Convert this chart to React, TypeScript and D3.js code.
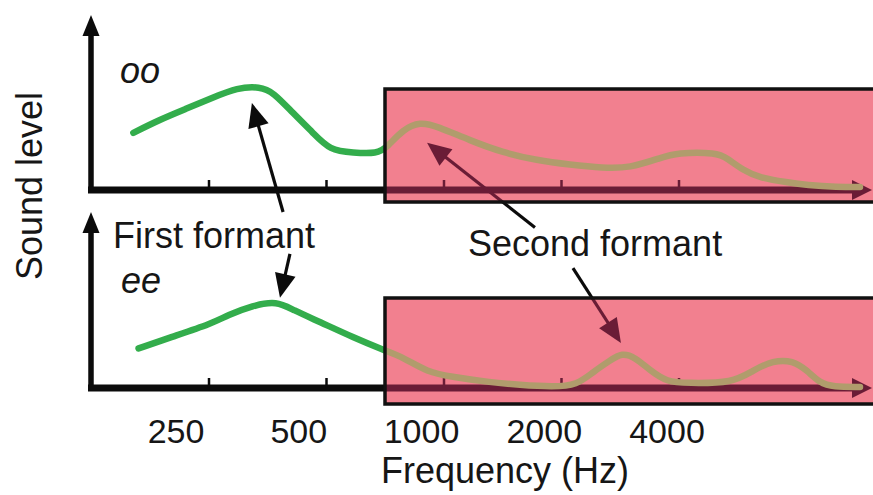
import React from "react";
import * as d3 from "d3";

const freqTicks = [250, 500, 1000, 2000, 4000];
const tickLabels = ["250", "500", "1000", "2000", "4000"];

const ooFreq = [160, 187, 219, 256, 295, 338, 365, 410, 462, 510, 585, 674, 715, 785, 868, 960, 1166, 1416, 1730, 2102, 2554, 2995, 3575, 3953, 5005, 5310, 5837, 6450, 7563, 8510, 10160, 11635];
const ooLevel = [52, 64, 74, 84, 93, 94, 89, 70, 52, 36, 34, 33, 39, 55, 62, 58, 45, 34, 27, 23, 20, 20, 29, 34, 34, 29, 18, 11, 7, 4.5, 2.7, 2.7];

const eeFreq = [165, 199, 256, 278, 324, 373, 410, 481, 585, 706, 785, 905, 1055, 1289, 1566, 1902, 2192, 2408, 2663, 2858, 3086, 3372, 3727, 4193, 5502, 6190, 6964, 7835, 8510, 9187, 9925, 11635];
const eeLevel = [36, 46, 59, 66, 75, 79, 71, 60, 46, 34, 28, 14.5, 10, 5.5, 2.7, 1, 2.7, 14.5, 25, 32, 28, 16, 5.5, 4.5, 4.5, 16, 25, 25, 16, 4.5, 1, 1];

const arrowPanel = ["oo", "ee", "oo", "ee"];
const arrowTailFreq = [387, 403, 1710, 2140];
const arrowTailLevel = [-20, 122, -34, 109];
const arrowTipFreq = [322, 380, 905, 2840];
const arrowTipLevel = [79, 82, 43, 41];

const W = 873;
const H = 495;

const x = d3.scaleLog().base(2).domain([250, 4000]).range([209, 679]);
const xLabel = d3.scaleLog().base(2).domain([250, 4000]).range([176, 667]);
const yOo = d3.scaleLinear().domain([0, 100]).range([190, 80]);
const yEe = d3.scaleLinear().domain([0, 100]).range([388, 278]);

const panels = [
  { key: "oo", y: yOo, freq: ooFreq, level: ooLevel, axisTop: 15, rectTop: 89, rectBottom: 202 },
  { key: "ee", y: yEe, freq: eeFreq, level: eeLevel, axisTop: 212, rectTop: 298, rectBottom: 404 },
];

const lineGen = d3
  .line<[number, number]>()
  .x((d) => d[0])
  .y((d) => d[1])
  .curve(d3.curveBasis);

const axisX0 = 88;
const rectX = 385;

function arrowHead(tx: number, ty: number, fx: number, fy: number, len: number, half: number) {
  const dx = tx - fx;
  const dy = ty - fy;
  const L = Math.sqrt(dx * dx + dy * dy);
  const ux = dx / L;
  const uy = dy / L;
  const bx = tx - ux * len;
  const by = ty - uy * len;
  const px = -uy;
  const py = ux;
  return `M${tx},${ty}L${bx + px * half},${by + py * half}L${bx - px * half},${by - py * half}Z`;
}

function Ink({ ink, line }: { ink: string; line: string }) {
  return (
    <g>
      {panels.map((p) => {
        const y0 = p.y(0);
        const pts: [number, number][] = p.freq.map((f, i) => [x(f), p.y(p.level[i])]);
        return (
          <g key={p.key}>
            <line x1={91} x2={91} y1={p.axisTop + 16} y2={y0 + 3} stroke={ink} strokeWidth={5.5} />
            <path d={arrowHead(91, p.axisTop, 91, p.axisTop + 30, 21, 8.5)} fill={ink} />
            <line x1={axisX0} x2={856} y1={y0} y2={y0} stroke={ink} strokeWidth={7} />
            <path d={arrowHead(872, y0, 840, y0, 20, 10)} fill={ink} />
            {freqTicks.map((t) => (
              <line key={t} x1={x(t)} x2={x(t)} y1={y0 - 10} y2={y0} stroke={ink} strokeWidth={2.5} />
            ))}
            <path d={lineGen(pts) || ""} fill="none" stroke={line} strokeWidth={6.5} strokeLinecap="round" strokeLinejoin="round" />
          </g>
        );
      })}
      {arrowPanel.map((pk, i) => {
        const ys = pk === "oo" ? yOo : yEe;
        const tx = x(arrowTipFreq[i]);
        const ty = ys(arrowTipLevel[i]);
        const fx = x(arrowTailFreq[i]);
        const fy = ys(arrowTailLevel[i]);
        const dx = tx - fx;
        const dy = ty - fy;
        const L = Math.sqrt(dx * dx + dy * dy);
        const ex = tx - (dx / L) * 18;
        const ey = ty - (dy / L) * 18;
        return (
          <g key={i}>
            <line x1={fx} y1={fy} x2={ex} y2={ey} stroke={ink} strokeWidth={3.2} />
            <path d={arrowHead(tx, ty, fx, fy, 24, 10.5)} fill={ink} />
          </g>
        );
      })}
    </g>
  );
}

export default function App() {
  const font = "'Liberation Sans', Arial, sans-serif";
  const textColor = "#161616";
  return (
    <svg width={W} height={H} style={{ position: "absolute", left: 0, top: 0, background: "#fff" }}>
      <defs>
        <clipPath id="pinkClip">
          {panels.map((p) => (
            <rect key={p.key} x={rectX} y={p.rectTop} width={W} height={p.rectBottom - p.rectTop} />
          ))}
        </clipPath>
      </defs>
      <rect x={0} y={0} width={W} height={H} fill="#fff" />
      <Ink ink="#0b0b0b" line="#33ad4c" />
      {panels.map((p) => (
        <rect key={p.key} x={rectX} y={p.rectTop} width={W} height={p.rectBottom - p.rectTop} fill="#f2808f" />
      ))}
      <g clipPath="url(#pinkClip)">
        <Ink ink="#6a1c36" line="#b09c6c" />
      </g>
      {panels.map((p) => (
        <rect key={p.key} x={rectX} y={p.rectTop} width={W + 20} height={p.rectBottom - p.rectTop} fill="none" stroke="#111" strokeWidth={3.5} />
      ))}
      <g fontFamily={font} fill={textColor}>
        <text x={120} y={83} fontSize={36} fontStyle="italic">oo</text>
        <text x={121} y={293} fontSize={36} fontStyle="italic">ee</text>
        <text x={113} y={248} fontSize={36}>First formant</text>
        <text x={468} y={256} fontSize={36}>Second formant</text>
        {freqTicks.map((t, i) => (
          <text key={t} x={xLabel(t)} y={443} fontSize={34} textAnchor="middle">{tickLabels[i]}</text>
        ))}
        <text x={505} y={483} fontSize={36} textAnchor="middle">Frequency (Hz)</text>
        <text transform="translate(42,186) rotate(-90)" fontSize={36} textAnchor="middle">Sound level</text>
      </g>
    </svg>
  );
}
